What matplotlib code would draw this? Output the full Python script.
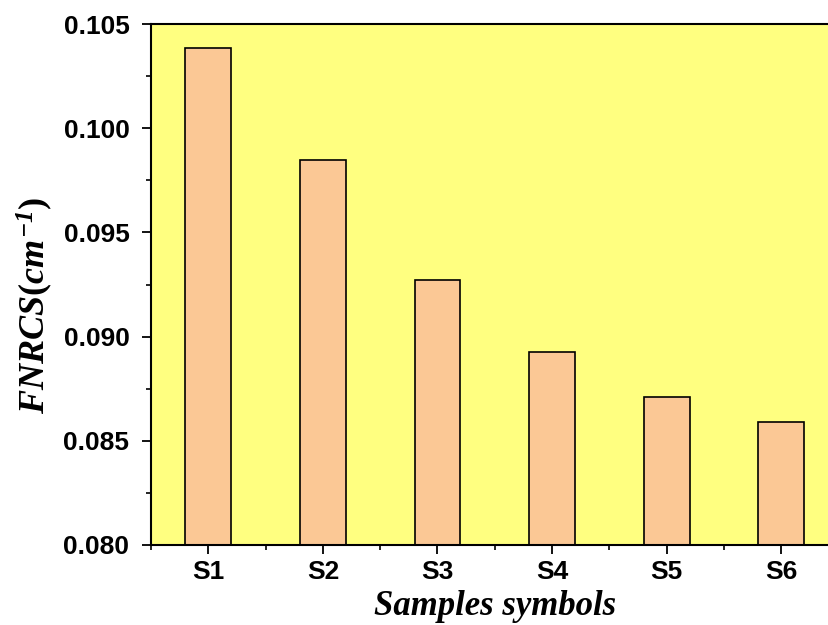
import matplotlib.pyplot as plt
from matplotlib.ticker import MultipleLocator

plt.rcParams['font.family'] = 'Liberation Sans'
plt.rcParams['mathtext.fontset'] = 'custom'
plt.rcParams['mathtext.rm'] = 'Liberation Serif:italic:bold'
plt.rcParams['mathtext.it'] = 'Liberation Serif:italic:bold'
plt.rcParams['mathtext.bf'] = 'Liberation Serif:bold'

# FNRCS per sample
samples = ["S1", "S2", "S3", "S4", "S5", "S6"]
fnrcs = [0.10385, 0.09847, 0.09272, 0.08926, 0.08710, 0.08590]
yticks = [0.080, 0.085, 0.090, 0.095, 0.100, 0.105]

fig = plt.figure(figsize=(8.29, 6.25), dpi=100)
ax = fig.add_axes([0.1821, 0.128, 0.8294, 0.8336])
ax.set_facecolor("#FFFF80")

pos = list(range(1, len(samples) + 1))
ax.bar(pos, fnrcs, width=0.4, color="#FBC895", edgecolor="black", linewidth=1.2)

ax.set_xlim(0.5, 6.5)
ax.set_ylim(0.080, 0.105)
ax.set_xticks(pos)
ax.set_xticklabels(samples, fontsize=19, fontweight="bold")
ax.xaxis.set_minor_locator(MultipleLocator(0.5))
ax.yaxis.set_minor_locator(MultipleLocator(0.0025))
ax.set_yticks(yticks)
ax.set_yticklabels(["%.3f" % v for v in yticks], fontsize=19, fontweight="bold")

ax.tick_params(which="major", direction="out", length=6.5, width=1.3)
ax.tick_params(axis="y", which="major", pad=9)
ax.tick_params(axis="x", which="major", pad=4)
ax.tick_params(which="minor", direction="out", length=3.5, width=1.2)
for s in ax.spines.values():
    s.set_linewidth(1.5)

ax.set_xlabel("Samples symbols", fontsize=25, fontweight="bold", fontstyle="italic",
              family="Liberation Serif")
ax.xaxis.set_label_coords(0.5, -0.087)
ax.set_ylabel(r"$\mathit{FNRCS}\mathbf{(}\mathit{cm}^{-1}\mathbf{)}$", fontsize=26)
ax.yaxis.set_label_coords(-0.14, 0.46)

fig.savefig("out.png", dpi=100)
